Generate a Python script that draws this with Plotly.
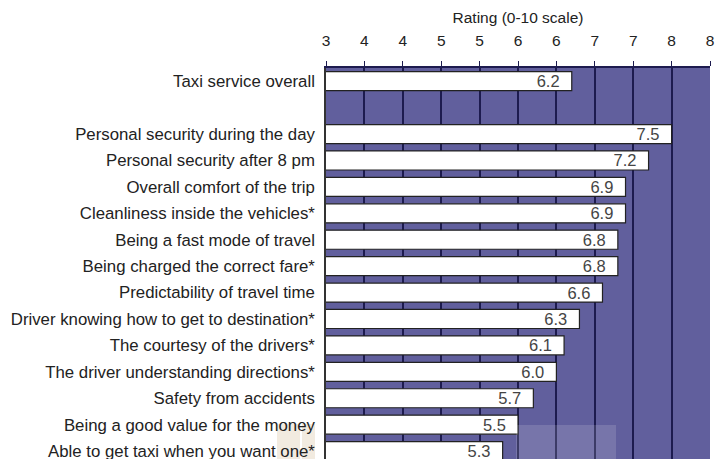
import plotly.graph_objects as go

# Ratings on a 0-10 scale, top to bottom; the blank entry is a spacer row
attributes = [
    "Taxi service overall",
    " ",
    "Personal security during the day",
    "Personal security after 8 pm",
    "Overall comfort of the trip",
    "Cleanliness inside the vehicles*",
    "Being a fast mode of travel",
    "Being charged the correct fare*",
    "Predictability of travel time",
    "Driver knowing how to get to destination*",
    "The courtesy of the drivers*",
    "The driver understanding directions*",
    "Safety from accidents",
    "Being a good value for the money",
    "Able to get taxi when you want one*",
]
ratings = [6.2, None, 7.5, 7.2, 6.9, 6.9, 6.8, 6.8, 6.6, 6.3, 6.1, 6.0, 5.7, 5.5, 5.3]

tick_values = [3, 3.5, 4, 4.5, 5, 5.5, 6, 6.5, 7, 7.5, 8]
tick_labels = ["3", "4", "4", "5", "5", "6", "6", "7", "7", "8", "8"]

PLOT_BG = "#615f9d"
GRID = "#1d1b4f"
FONT = "Liberation Sans, Arial, sans-serif"

fig = go.Figure(
    go.Bar(
        x=ratings,
        y=attributes,
        orientation="h",
        width=0.72,
        marker=dict(color="white", line=dict(color="#222222", width=1.2)),
        text=[None if v is None else f"{v:.1f}\u00a0\u00a0" for v in ratings],
        textposition="inside",
        insidetextanchor="end",
        textfont=dict(family=FONT, size=16.5, color="#444444"),
        constraintext="none",
        hoverinfo="skip",
    )
)

fig.update_layout(
    width=717,
    height=459,
    margin=dict(l=326, r=7, t=68, b=0),
    paper_bgcolor="white",
    plot_bgcolor=PLOT_BG,
    showlegend=False,
    font=dict(family=FONT, color="#222222"),
)

fig.update_xaxes(
    side="top",
    range=[3, 8],
    tickvals=tick_values,
    ticktext=tick_labels,
    tickfont=dict(size=15.5, color="#222222"),
    ticks="outside",
    ticklen=5,
    tickcolor=GRID,
    ticklabelstandoff=9,
    showgrid=True,
    gridcolor=GRID,
    gridwidth=1.5,
    showline=True,
    linecolor=GRID,
    linewidth=1.5,
    zeroline=False,
    automargin=False,
    fixedrange=True,
    title=dict(text="Rating (0-10 scale)", font=dict(size=15.5, color="#222222"), standoff=5),
)

fig.update_yaxes(
    type="category",
    categoryorder="array",
    categoryarray=attributes,
    range=[14.3, -0.5],
    ticks="",
    ticklabelstandoff=6,
    tickfont=dict(size=16.8, color="#222222"),
    showgrid=False,
    showline=True,
    linecolor="#333333",
    linewidth=1.5,
    automargin=False,
    fixedrange=True,
)

# Faint light patches near the bottom of the frame
fig.add_shape(type="rect", xref="paper", yref="paper",
              x0=(516 - 326) / 384, x1=(616 - 326) / 384, y0=0, y1=(459 - 425) / 391,
              fillcolor="white", opacity=0.14, line_width=0, layer="above")
fig.add_shape(type="rect", xref="paper", yref="paper",
              x0=(277 - 326) / 384, x1=(300 - 326) / 384, y0=0, y1=(459 - 424) / 391,
              fillcolor="#d9c6a6", opacity=0.35, line_width=0, layer="below")
fig.add_shape(type="rect", xref="paper", yref="paper",
              x0=(302 - 326) / 384, x1=(315 - 326) / 384, y0=0, y1=(459 - 424) / 391,
              fillcolor="#d9c6a6", opacity=0.35, line_width=0, layer="below")

fig.write_html("out.html")
